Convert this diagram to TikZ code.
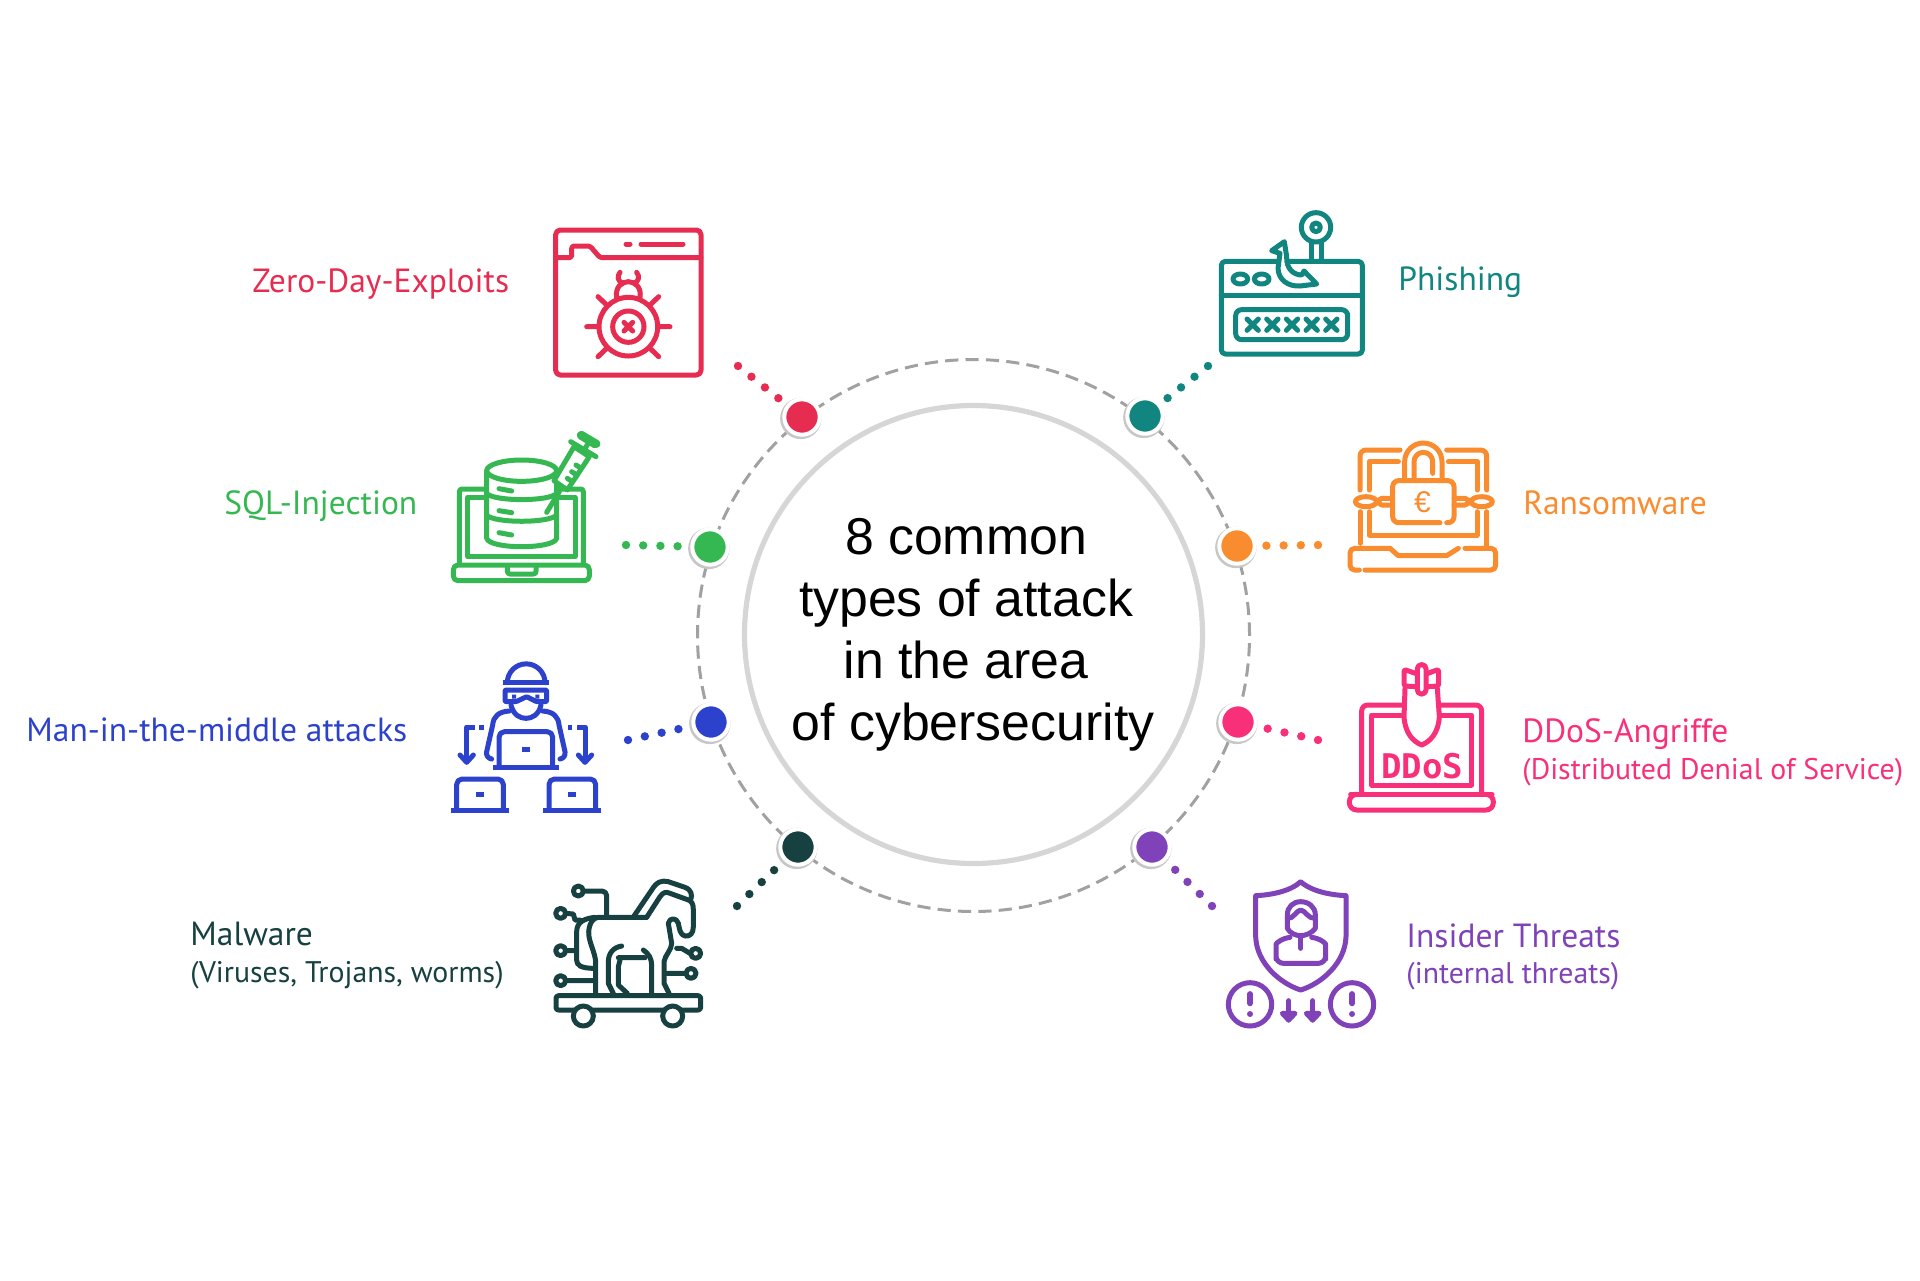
\documentclass[tikz,border=0pt]{standalone}
\usepackage{fontspec}
\setmainfont{Liberation Sans}
\newfontfamily\labelfont{PT Sans}
\newfontfamily\keyfont{DejaVu Sans Mono}
\usepackage{tikz}
\usetikzlibrary{shadows}
\definecolor{zerored}{HTML}{E62C50}
\definecolor{phishteal}{HTML}{11857F}
\definecolor{sqlgreen}{HTML}{35B852}
\definecolor{ransomorange}{HTML}{F98C2E}
\definecolor{mitmblue}{HTML}{2C41CC}
\definecolor{ddospink}{HTML}{F8307A}
\definecolor{malwaredark}{HTML}{174040}
\definecolor{insiderpurple}{HTML}{7F42B8}
\tikzset{
    %one unit is one pixel of the reference
    attackdot/.style={
           circle,
           fill=#1,
           draw=white,
           line width=2pt,
           minimum size=17.7pt,
           inner sep=0pt,
           general shadow={fill=black!22,shadow scale=1.17,shadow xshift=-.5pt,shadow yshift=-.6pt}
           },
    dotline/.style={
           draw=#1,
           line width=4.2pt,
           line cap=round,
           dash pattern=on 0pt off 8.6pt
           },
    mainlabel/.style={
           anchor=base west,
           inner sep=0pt,
           font=\labelfont\fontsize{16.75}{18}\selectfont,
           text=#1
           },
    sublabel/.style={
           anchor=base west,
           inner sep=0pt,
           font=\labelfont\fontsize{14.9}{16}\selectfont,
           text=#1
           },
    %icons are written in the units of a 3x crop
    iconcrop/.style 2 args={shift={(#1,#2)},x=.16667pt,y=-.16667pt},
    iconline/.style={
           draw=#1,
           line width=2.5pt,
           line cap=round,
           line join=round
           }
}
\begin{document}
\begin{tikzpicture}[x=.5pt,y=-.5pt]
\useasboundingbox (0,0) rectangle (1920,1280);

% the two rings
\node[circle,draw=black!37,line width=1.5pt,dash pattern=on 6.6pt off 3.6pt,minimum size=276pt,inner sep=0pt](outerring) at (973.5,635.5){};
\node[circle,draw=black!16,line width=2.6pt,minimum size=229pt,inner sep=0pt](innerring) at (973.5,634.5){};
\node[align=center,font=\fontsize{25.9}{31}\selectfont,inner sep=0pt,anchor=base](title) at (966,740.5){8 common\\types of attack\\in the area\\\hspace*{7pt}of cybersecurity};

% dots on the ring
\node[attackdot=zerored](zerodot) at (802,417){};
\node[attackdot=phishteal](phishdot) at (1145,416){};
\node[attackdot=sqlgreen](sqldot) at (710,547){};
\node[attackdot=ransomorange](ransomdot) at (1237,546){};
\node[attackdot=mitmblue](mitmdot) at (711,722){};
\node[attackdot=ddospink](ddosdot) at (1238,722){};
\node[attackdot=malwaredark](malwaredot) at (798,847){};
\node[attackdot=insiderpurple](insiderdot) at (1152,847){};

% free ends of the dotted lines
\coordinate (zeroend) at (738,366);
\coordinate (phishend) at (1208,366);
\coordinate (sqlend) at (626,545);
\coordinate (ransomend) at (1318,545);
\coordinate (mitmend) at (628,740);
\coordinate (ddosend) at (1318,740);
\coordinate (malwareend) at (737,906);
\coordinate (insiderend) at (1212,906);
\draw[dotline=zerored] (zeroend) -- (zerodot);
\draw[dotline=phishteal] (phishend) -- (phishdot);
\draw[dotline=sqlgreen] (sqlend) -- (sqldot);
\draw[dotline=ransomorange] (ransomend) -- (ransomdot);
\draw[dotline=mitmblue] (mitmend) -- (mitmdot);
\draw[dotline=ddospink] (ddosend) -- (ddosdot);
\draw[dotline=malwaredark] (malwareend) -- (malwaredot);
\draw[dotline=insiderpurple] (insiderend) -- (insiderdot);

% labels
\node[mainlabel=zerored](zerolabel) at (252,292){Zero-Day-Exploits};
\node[mainlabel=sqlgreen](sqllabel) at (224,514){SQL-Injection};
\node[mainlabel=mitmblue](mitmlabel) at (26,741){Man-in-the-middle attacks};
\node[mainlabel=malwaredark](malwarelabel) at (190,945){Malware};
\node[sublabel=malwaredark](malwaresub) at (190,982){(Viruses, Trojans, worms)};
\node[mainlabel=phishteal](phishlabel) at (1398,290){Phishing};
\node[mainlabel=ransomorange](ransomlabel) at (1523,514){Ransomware};
\node[mainlabel=ddospink](ddoslabel) at (1522,742){DDoS-Angriffe};
\node[sublabel=ddospink](ddossub) at (1522,779){(Distributed Denial of Service)};
\node[mainlabel=insiderpurple](insiderlabel) at (1406,947){Insider Threats};
\node[sublabel=insiderpurple](insidersub) at (1406,983){(internal threats)};

% zero day icon
\begin{scope}[iconcrop={520}{200}]
\draw[iconline=zerored,rounded corners=2.3pt] (107,90) rectangle (543,525);
\draw[iconline=zerored,rounded corners=1.2pt] (107,173) -- (155,173) -- (155,138) -- (210,138) -- (240,173) -- (543,173);
\draw[iconline=zerored] (318,132) -- (330,132) (363,132) -- (489,132);
\draw[iconline=zerored] (325,380) circle (88) (325,380) circle (47);
\draw[iconline=zerored] (312,367) -- (338,393) (338,367) -- (312,393);
\draw[iconline=zerored] (200,380) -- (235,380) (415,380) -- (450,380) (234,290) -- (260,315) (416,290) -- (390,315) (234,470) -- (260,445) (416,470) -- (390,445);
\draw[iconline=zerored] (290,292) .. controls (285,262) and (305,245) .. (325,245) .. controls (345,245) and (365,262) .. (360,292);
\draw[iconline=zerored] (300,217) .. controls (290,230) and (293,243) .. (308,250) (350,217) .. controls (360,230) and (357,243) .. (342,250);
\end{scope}

% phishing icon
\begin{scope}[iconcrop={1180}{190}]
\draw[iconline=phishteal,rounded corners=2pt] (124,214) rectangle (547,492);
\draw[iconline=phishteal] (124,316) -- (547,316);
\draw[iconline=phishteal,rounded corners=3pt] (167,359) rectangle (503,449);
\draw[iconline=phishteal] (201,387) -- (235,421) (235,387) -- (201,421) (260,387) -- (294,421) (294,387) -- (260,421) (319,387) -- (353,421) (353,387) -- (319,421) (378,387) -- (412,421) (412,387) -- (378,421) (437,387) -- (471,421) (471,387) -- (437,421);
\draw[iconline=phishteal] (181,267) ellipse (22 and 15) (245,267) ellipse (22 and 15);
\draw[iconline=phishteal] (408,112) circle (44) (408,112) circle (13);
\draw[iconline=phishteal] (393,155) -- (393,214) (423,155) -- (423,214);
\draw[iconline=phishteal,fill=white] (275,182) -- (300,190) -- (294,235) .. controls (295,270) and (325,290) .. (360,288) -- (410,282) -- (372,243) -- (365,255) .. controls (340,255) and (318,235) .. (320,200) -- (313,155) -- cycle;
\end{scope}

% sql icon
\begin{scope}[iconcrop={430}{410}]
\draw[iconline=sqlgreen,rounded corners=1.3pt] (88,460) -- (88,237) -- (165,237) (385,237) -- (460,237) -- (460,460);
\draw[iconline=sqlgreen] (113,262) rectangle (435,440);
\draw[iconline=sqlgreen,rounded corners=2.3pt] (70,465) -- (478,465) -- (478,512) -- (70,512) -- cycle;
\draw[iconline=sqlgreen,rounded corners=1.3pt] (232,470) -- (232,492) -- (318,492) -- (318,470);
\draw[iconline=sqlgreen,fill=white] (170,182) -- (170,385) .. controls (175,402) and (225,410) .. (275,410) .. controls (325,410) and (375,402) .. (380,385) -- (380,182);
\draw[iconline=sqlgreen,fill=white] (275,182) ellipse (105 and 32);
\draw[iconline=sqlgreen] (170,250) .. controls (190,275) and (360,275) .. (380,250) (170,315) .. controls (190,340) and (360,340) .. (380,315);
\draw[iconline=sqlgreen] (207,236) -- (245,243) (207,302) -- (245,308) (207,368) -- (245,375);
\draw[iconline=sqlgreen] (350,307) -- (388,245);
\draw[iconline=sqlgreen,fill=white] (372,212) -- (412,240) -- (478,140) -- (432,110) -- cycle;
\draw[iconline=sqlgreen] (422,95) -- (498,140) (465,115) -- (475,100);
\draw[iconline=sqlgreen,rounded corners=1pt] (452,68) -- (506,100) -- (498,110) -- (446,78) -- cycle;
\draw[iconline=sqlgreen] (412,205) -- (424,213) (425,185) -- (437,193) (438,165) -- (450,173);
\end{scope}

% ransomware icon
\begin{scope}[iconcrop={1330}{420}]
\draw[iconline=ransomorange,rounded corners=3pt] (90,210) -- (90,90) -- (210,90) (350,90) -- (470,90) -- (470,210);
\draw[iconline=ransomorange] (90,275) -- (90,370) (470,275) -- (470,380);
\draw[iconline=ransomorange] (118,210) -- (118,125) -- (205,125) (355,125) -- (442,125) -- (442,210) (118,275) -- (118,345) -- (442,345) -- (442,275);
\draw[iconline=ransomorange,rounded corners=3pt] (350,308) -- (372,308) -- (372,182) -- (188,182) -- (188,308) -- (330,308);
\draw[iconline=ransomorange] (224,175) -- (224,125) arc (180:360:56) -- (336,175) (252,175) -- (252,125) arc (180:360:28) -- (308,160);
\draw[iconline=ransomorange] (108,245) ellipse (32 and 15) (455,245) ellipse (32 and 15);
\draw[iconline=ransomorange] (140,245) -- (155,235) -- (188,235) (155,255) -- (188,255) (140,245) -- (155,255) (423,245) -- (405,235) -- (372,235) (405,255) -- (372,255) (423,245) -- (405,255);
\node[text=ransomorange,font=\fontsize{15}{15}\selectfont,inner sep=0pt](eurosign) at (277,245){€};
\draw[iconline=ransomorange,rounded corners=2.3pt] (180,385) -- (60,385) -- (60,450) -- (88,450) (105,450) -- (497,450) -- (497,385) -- (405,385);
\draw[iconline=ransomorange] (180,385) -- (205,407) -- (350,407) -- (385,385);
\end{scope}

% man in the middle icon
\begin{scope}[iconcrop={430}{650}]
\draw[iconline=mitmblue] (232,98) arc (180:360:56.5);
\draw[iconline=mitmblue,line cap=butt] (218,98) -- (357,98);
\draw[iconline=mitmblue,rounded corners=.5pt] (225,120) -- (350,120) -- (350,155) -- (320,155) -- (290,140) -- (258,155) -- (225,155) -- cycle;
\fill[mitmblue] (246,134) rectangle (258,146) (316,134) rectangle (328,146);
\draw[iconline=mitmblue] (243,165) .. controls (250,195) and (270,205) .. (288,205) .. controls (306,205) and (326,195) .. (333,165);
\draw[iconline=mitmblue] (238,183) .. controls (205,185) and (190,200) .. (188,225) -- (170,305) .. controls (168,318) and (175,325) .. (185,327);
\draw[iconline=mitmblue] (338,183) .. controls (370,185) and (385,200) .. (387,225) -- (405,305) .. controls (407,318) and (400,325) .. (390,327);
\draw[iconline=mitmblue,rounded corners=2.7pt] (207,350) -- (207,245) -- (368,245) -- (368,350);
\draw[iconline=mitmblue,line cap=butt] (190,353) -- (387,353) (275,299) -- (300,299);
\draw[iconline=mitmblue,rounded corners=2.7pt] (80,478) -- (80,387) -- (220,387) -- (220,478);
\draw[iconline=mitmblue,line cap=butt] (63,481) -- (236,481) (137,434) -- (161,434);
\draw[iconline=mitmblue,rounded corners=2.7pt] (357,478) -- (357,387) -- (497,387) -- (497,478);
\draw[iconline=mitmblue,line cap=butt] (340,481) -- (512,481) (414,434) -- (438,434);
\draw[iconline=mitmblue,line cap=butt] (161,231) -- (148,231) (134,231) -- (110,231) -- (110,338) (414,231) -- (427,231) (441,231) -- (465,231) -- (465,338);
\draw[iconline=mitmblue] (90,315) -- (110,337) -- (130,315) (445,315) -- (465,337) -- (485,315);
\end{scope}

% ddos icon
\begin{scope}[iconcrop={1330}{650}]
\draw[iconline=ddospink,rounded corners=3pt] (220,165) -- (95,165) -- (95,430) (330,165) -- (455,165) -- (455,430);
\draw[iconline=ddospink] (222,195) -- (125,195) -- (125,405) -- (425,405) -- (425,195) -- (325,195);
\draw[iconline=ddospink,rounded corners=3.7pt] (75,433) -- (58,433) -- (58,480) -- (490,480) -- (490,433) -- (470,433);
\draw[iconline=ddospink] (62,433) -- (486,433);
\draw[iconline=ddospink,fill=white] (225,115) -- (222,200) .. controls (225,250) and (250,275) .. (275,285) .. controls (300,275) and (325,250) .. (328,200) -- (322,115);
\draw[iconline=ddospink,rounded corners=.8pt] (262,72) -- (222,58) -- (222,108) -- (262,110) (288,72) -- (326,58) -- (326,108) -- (288,110);
\draw[iconline=ddospink,rounded corners=2pt,fill=white] (262,44) rectangle (288,132);
\node[text=ddospink,font=\keyfont\bfseries\fontsize{17}{17}\selectfont,inner sep=0pt](ddosword) at (277,348){DDoS};
\end{scope}

% malware icon
\begin{scope}[iconcrop={530}{860}]
\draw[iconline=malwaredark,rounded corners=1.3pt] (78,407) rectangle (512,450);
\draw[iconline=malwaredark,fill=white] (160,468) circle (30) (428,468) circle (30);
\draw[iconline=malwaredark] (145,93) circle (15) (92,160) circle (15) (92,272) circle (15) (92,362) circle (15) (497,280) circle (15) (483,340) circle (15);
\draw[iconline=malwaredark,rounded corners=2.3pt] (162,93) -- (230,93) -- (230,170);
\draw[iconline=malwaredark] (107,160) -- (130,162) -- (135,180) -- (150,180) (107,272) -- (140,272) (107,362) -- (190,362) (480,280) -- (455,265) -- (440,265) (465,340) -- (410,340);
\draw[iconline=malwaredark] (195,172) .. controls (165,175) and (140,185) .. (140,215) -- (140,300) .. controls (140,315) and (150,325) .. (195,325);
\draw[iconline=malwaredark] (350,172) -- (205,172) .. controls (180,175) and (172,210) .. (178,235) .. controls (185,265) and (197,285) .. (197,310) -- (197,400);
\draw[iconline=malwaredark] (312,168) -- (365,90) .. controls (380,65) and (395,60) .. (415,65) -- (465,82) .. controls (485,90) and (487,105) .. (482,120);
\draw[iconline=malwaredark] (350,172) -- (390,110) .. controls (400,95) and (410,95) .. (420,100) -- (470,118) .. controls (485,122) and (490,130) .. (490,150) -- (490,200) .. controls (490,220) and (480,230) .. (465,228) .. controls (450,225) and (448,205) .. (445,190) .. controls (440,172) and (418,172) .. (415,190) -- (425,250) .. controls (425,270) and (405,285) .. (402,305) -- (402,370) -- (417,400);
\draw[iconline=malwaredark] (275,258) .. controls (250,262) and (235,280) .. (235,305) -- (235,370) -- (250,400);
\draw[iconline=malwaredark] (270,300) -- (265,320) -- (265,375) -- (292,400) (265,293) -- (345,293);
\draw[iconline=malwaredark] (340,270) .. controls (355,280) and (365,295) .. (365,315) -- (365,400);
\end{scope}

% insider icon
\begin{scope}[iconcrop={1210}{860}]
\draw[iconline=insiderpurple] (272,65) .. controls (240,95) and (180,105) .. (137,107) -- (137,230) .. controls (140,310) and (210,370) .. (272,390) .. controls (335,370) and (405,310) .. (408,230) -- (408,107) .. controls (365,105) and (305,95) .. (272,65) -- cycle;
\draw[iconline=insiderpurple] (232,205) -- (232,165) .. controls (232,140) and (250,125) .. (272,125) .. controls (295,125) and (316,140) .. (316,165) -- (316,205) .. controls (305,220) and (285,227) .. (272,227) .. controls (258,227) and (240,220) .. (232,205);
\draw[iconline=insiderpurple] (232,175) .. controls (250,178) and (260,150) .. (272,150) .. controls (285,150) and (295,178) .. (316,175);
\draw[iconline=insiderpurple,rounded corners=3.7pt] (240,232) .. controls (215,235) and (198,250) .. (198,275) -- (198,310) -- (347,310) -- (347,275) .. controls (347,250) and (330,235) .. (305,232);
\draw[iconline=insiderpurple] (272,228) -- (272,265);
\draw[iconline=insiderpurple] (120,433) circle (65) (426,433) circle (65);
\draw[iconline=insiderpurple,line width=2.9pt] (120,402) -- (120,430) (426,402) -- (426,430);
\fill[insiderpurple] (120,462) circle (9) (426,462) circle (9);
\draw[iconline=insiderpurple] (236,422) -- (236,480) (308,422) -- (308,480);
\draw[iconline=insiderpurple,fill=insiderpurple] (217,460) -- (236,480) -- (255,460) -- cycle (289,460) -- (308,480) -- (327,460) -- cycle;
\end{scope}
\end{tikzpicture}
\end{document}
